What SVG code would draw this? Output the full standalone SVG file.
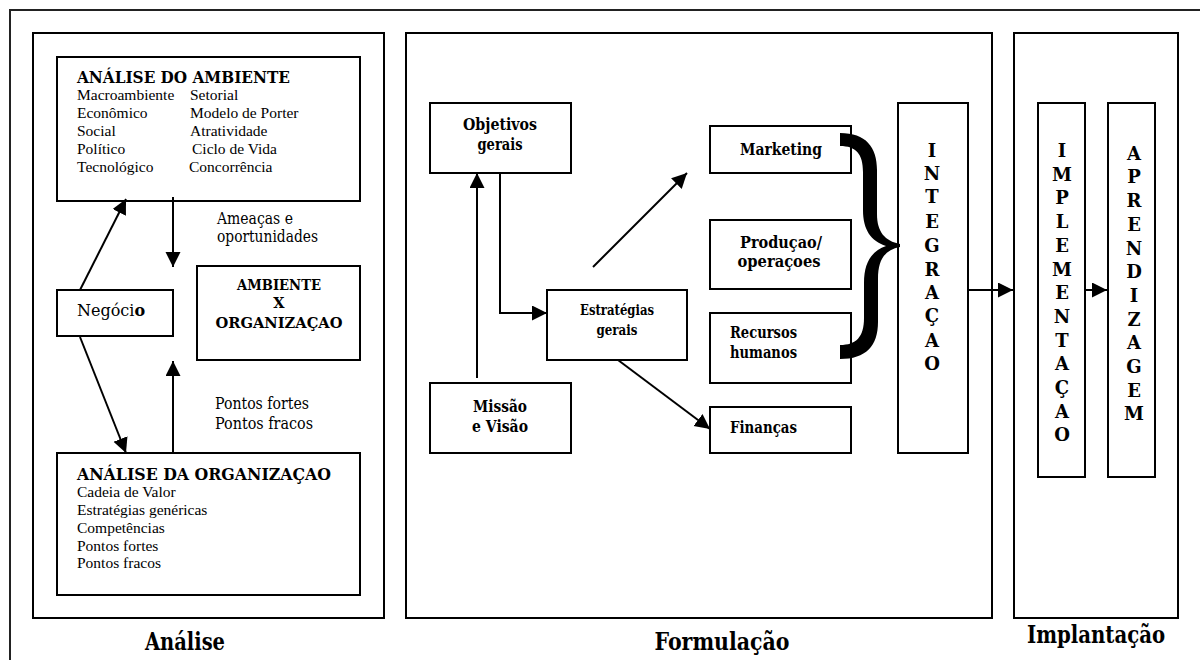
<svg xmlns="http://www.w3.org/2000/svg" width="1200" height="660" viewBox="0 0 1200 660">
  <style>
    .box { fill: #fff; stroke: #000; stroke-width: 2; }
    .panel { fill: none; stroke: #000; stroke-width: 2; }
    .wire { fill: none; stroke: #000; stroke-width: 2; }
    .item { font-family: "Liberation Serif", "Times New Roman", serif; font-size: 15.5px; }
    .title { font-family: "DejaVu Serif", serif; font-size: 16.5px; font-weight: bold; }
    .note { font-family: "DejaVu Serif", serif; font-size: 16px; }
    .lbl { font-family: "DejaVu Serif", serif; font-size: 16.5px; font-weight: bold; }
    .lbl-s { font-family: "DejaVu Serif", serif; font-size: 14.5px; font-weight: bold; }
    .stack { font-family: "DejaVu Serif", serif; font-size: 18px; font-weight: bold; text-anchor: middle; }
    .stage { font-family: "DejaVu Serif", serif; font-size: 24px; font-weight: bold; text-anchor: middle; }
    .mid { text-anchor: middle; }
  </style>
  <defs>
    <marker id="head" markerUnits="userSpaceOnUse" markerWidth="16" markerHeight="16" refX="15" refY="7.5" orient="auto">
      <path d="M0,0 L15,7.5 L0,15 Z" fill="#000"/>
    </marker>
  </defs>

  <rect width="1200" height="660" fill="#fff"/>
  <!-- outer frame (only top and left edges fall inside the page) -->
  <rect x="10" y="10" width="1210" height="670" fill="none" stroke="#222" stroke-width="2"/>

  <!-- stage panels -->
  <g id="panel-analise">
    <rect class="panel" x="33" y="33" width="351" height="585"/>
    <text class="stage" x="185" y="650" textLength="80" lengthAdjust="spacingAndGlyphs">Análise</text>
  </g>
  <g id="panel-formulacao">
    <rect class="panel" x="406" y="33" width="586" height="585"/>
    <text class="stage" x="722" y="650" textLength="135" lengthAdjust="spacingAndGlyphs">Formulação</text>
  </g>
  <g id="panel-implantacao">
    <rect class="panel" x="1014" y="33" width="164" height="585"/>
    <text class="stage" x="1096" y="643" textLength="138" lengthAdjust="spacingAndGlyphs">Implantação</text>
  </g>

  <!-- Análise nodes -->
  <g id="analise-ambiente">
    <rect class="box" x="57" y="57" width="303" height="144"/>
    <text class="title" x="77" y="83" textLength="213" lengthAdjust="spacingAndGlyphs">ANÁLISE DO AMBIENTE</text>
    <text class="item" x="77" y="100">Macroambiente</text>
    <text class="item" x="77" y="118">Econômico</text>
    <text class="item" x="77" y="136">Social</text>
    <text class="item" x="77" y="154">Político</text>
    <text class="item" x="77" y="172">Tecnológico</text>
    <text class="item" x="190" y="100">Setorial</text>
    <text class="item" x="190" y="118">Modelo de Porter</text>
    <text class="item" x="190" y="136">Atratividade</text>
    <text class="item" x="192" y="154">Ciclo de Vida</text>
    <text class="item" x="189" y="172">Concorrência</text>
  </g>
  <g id="negocio">
    <rect class="box" x="57" y="290" width="116" height="46"/>
    <text class="note" x="77" y="316" font-size="14.5px">Negóci<tspan font-weight="bold">o</tspan></text>
  </g>
  <g id="ambiente-x-organizacao">
    <rect class="box" x="197" y="266" width="163" height="94"/>
    <text class="lbl-s mid" x="279" y="290" textLength="84" lengthAdjust="spacingAndGlyphs">AMBIENTE</text>
    <text class="lbl-s mid" x="279" y="308">X</text>
    <text class="lbl-s mid" x="279" y="328" textLength="127" lengthAdjust="spacingAndGlyphs">ORGANIZAÇAO</text>
  </g>
  <g id="analise-organizacao">
    <rect class="box" x="57" y="453" width="303" height="142"/>
    <text class="title" x="77" y="480" textLength="254" lengthAdjust="spacingAndGlyphs">ANÁLISE DA ORGANIZAÇAO</text>
    <text class="item" x="77" y="497">Cadeia de Valor</text>
    <text class="item" x="77" y="515">Estratégias genéricas</text>
    <text class="item" x="77" y="533">Competências</text>
    <text class="item" x="77" y="551">Pontos fortes</text>
    <text class="item" x="77" y="568">Pontos fracos</text>
  </g>
  <g id="notes-analise">
    <text class="note" x="217" y="224" textLength="76" lengthAdjust="spacingAndGlyphs">Ameaças e</text>
    <text class="note" x="217" y="242" textLength="101" lengthAdjust="spacingAndGlyphs">oportunidades</text>
    <text class="note" x="215" y="409" textLength="94" lengthAdjust="spacingAndGlyphs">Pontos fortes</text>
    <text class="note" x="215" y="429" textLength="98" lengthAdjust="spacingAndGlyphs">Pontos fracos</text>
  </g>

  <!-- Formulação nodes -->
  <g id="objetivos">
    <rect class="box" x="430" y="103" width="141" height="70"/>
    <text class="lbl mid" x="500" y="130" textLength="74" lengthAdjust="spacingAndGlyphs">Objetivos</text>
    <text class="lbl mid" x="500" y="150" textLength="45" lengthAdjust="spacingAndGlyphs">gerais</text>
  </g>
  <g id="missao">
    <rect class="box" x="430" y="383" width="141" height="70"/>
    <text class="lbl mid" x="500" y="412" textLength="54" lengthAdjust="spacingAndGlyphs">Missão</text>
    <text class="lbl mid" x="500" y="432" textLength="56" lengthAdjust="spacingAndGlyphs">e Visão</text>
  </g>
  <g id="estrategias">
    <rect class="box" x="547" y="290" width="140" height="70"/>
    <text class="lbl-s mid" x="617" y="315" textLength="74" lengthAdjust="spacingAndGlyphs">Estratégias</text>
    <text class="lbl-s mid" x="617" y="335" textLength="41" lengthAdjust="spacingAndGlyphs">gerais</text>
  </g>
  <g id="marketing">
    <rect class="box" x="710" y="126" width="141" height="47"/>
    <text class="lbl mid" x="781" y="155" textLength="82" lengthAdjust="spacingAndGlyphs">Marketing</text>
  </g>
  <g id="producao">
    <rect class="box" x="710" y="220" width="141" height="69"/>
    <text class="lbl mid" x="781" y="248" textLength="82" lengthAdjust="spacingAndGlyphs">Produçao/</text>
    <text class="lbl mid" x="779" y="267" textLength="83" lengthAdjust="spacingAndGlyphs">operaçoes</text>
  </g>
  <g id="recursos">
    <rect class="box" x="710" y="313" width="141" height="70"/>
    <text class="lbl" x="730" y="338" textLength="67" lengthAdjust="spacingAndGlyphs">Recursos</text>
    <text class="lbl" x="730" y="358" textLength="67" lengthAdjust="spacingAndGlyphs">humanos</text>
  </g>
  <g id="financas">
    <rect class="box" x="710" y="407" width="141" height="46"/>
    <text class="lbl" x="730" y="433" textLength="67" lengthAdjust="spacingAndGlyphs">Finanças</text>
  </g>
  <g id="integracao">
    <rect class="box" x="898" y="103" width="70" height="350"/>
    <text class="stack"><tspan x="932" y="157">I</tspan><tspan x="932" y="180">N</tspan><tspan x="932" y="203">T</tspan><tspan x="932" y="228">E</tspan><tspan x="932" y="252">G</tspan><tspan x="932" y="276">R</tspan><tspan x="932" y="299">A</tspan><tspan x="932" y="322">Ç</tspan><tspan x="932" y="347">A</tspan><tspan x="932" y="370">O</tspan></text>
  </g>

  <!-- Implantação nodes -->
  <g id="implementacao">
    <rect class="box" x="1038" y="103" width="47" height="374"/>
    <text class="stack"><tspan x="1062" y="157">I</tspan><tspan x="1062" y="181">M</tspan><tspan x="1062" y="204">P</tspan><tspan x="1062" y="228">L</tspan><tspan x="1062" y="252">E</tspan><tspan x="1062" y="276">M</tspan><tspan x="1062" y="299">E</tspan><tspan x="1062" y="323">N</tspan><tspan x="1062" y="347">T</tspan><tspan x="1062" y="370">A</tspan><tspan x="1062" y="394">Ç</tspan><tspan x="1062" y="418">A</tspan><tspan x="1062" y="441">O</tspan></text>
  </g>
  <g id="aprendizagem">
    <rect class="box" x="1108" y="103" width="47" height="374"/>
    <text class="stack"><tspan x="1134" y="160">A</tspan><tspan x="1134" y="183">P</tspan><tspan x="1134" y="207">R</tspan><tspan x="1134" y="231">E</tspan><tspan x="1134" y="255">N</tspan><tspan x="1134" y="278">D</tspan><tspan x="1134" y="302">I</tspan><tspan x="1134" y="326">Z</tspan><tspan x="1134" y="349">A</tspan><tspan x="1134" y="373">G</tspan><tspan x="1134" y="397">E</tspan><tspan x="1134" y="420">M</tspan></text>
  </g>

  <!-- connectors -->
  <g id="connectors">
    <line class="wire" x1="80" y1="290" x2="126" y2="199" marker-end="url(#head)"/>
    <line class="wire" x1="80" y1="337" x2="126" y2="453" marker-end="url(#head)"/>
    <line class="wire" x1="173" y1="197" x2="173" y2="267" marker-end="url(#head)"/>
    <line class="wire" x1="173" y1="453" x2="173" y2="361" marker-end="url(#head)"/>
    <line class="wire" x1="477" y1="378" x2="477" y2="173" stroke-width="2.5" marker-end="url(#head)"/>
    <polyline class="wire" points="500,173 500,313 547,313" marker-end="url(#head)"/>
    <line class="wire" x1="593" y1="267" x2="687" y2="173" marker-end="url(#head)"/>
    <line class="wire" x1="618" y1="360" x2="710" y2="429" marker-end="url(#head)"/>
    <line class="wire" x1="968" y1="290" x2="1013" y2="290" marker-end="url(#head)"/>
    <line class="wire" x1="1085" y1="290" x2="1107" y2="290" marker-end="url(#head)"/>
    <!-- thick curly brace joining the functional areas -->
    <path fill="#000" d="M840,133 C866,133 877,147 877,170 L877,214 C877,232 885,241 900,244 L900,247 C885,250 878,259 878,279 L878,322 C878,346 866,359 840,359 L840,345 C856,345 864,337 864,318 L864,283 C864,262 872,251 886,246 C871,241 863,230 863,210 L863,172 C863,154 856,146 840,146 Z"/>
  </g>
</svg>
